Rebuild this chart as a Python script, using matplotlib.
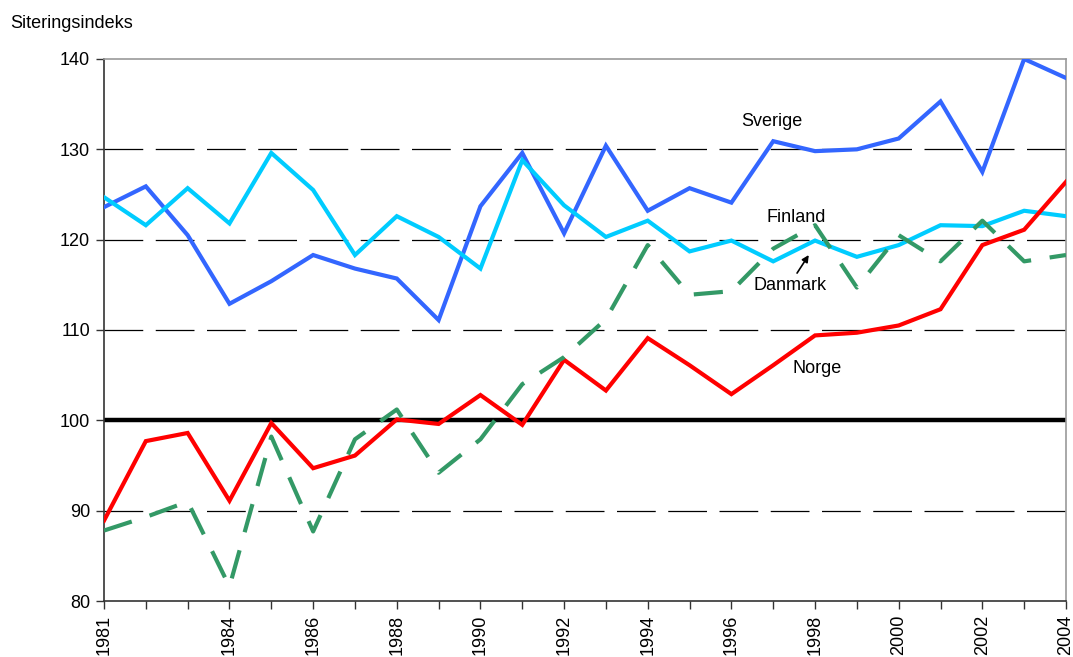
import matplotlib
matplotlib.use("Agg")
import matplotlib.pyplot as plt
import numpy as np

plt.rcParams['font.family'] = ['Liberation Sans', 'DejaVu Sans']

years = list(range(1981, 2005))
sverige = [123.6, 125.9, 120.5, 112.9, 115.4, 118.3, 116.8, 115.7, 111.1, 123.7, 129.6, 120.7,
           130.4, 123.2, 125.7, 124.1, 130.9, 129.8, 130.0, 131.2, 135.3, 127.5, 140.0, 137.9]
finland = [124.7, 121.6, 125.7, 121.8, 129.6, 125.5, 118.3, 122.6, 120.3, 116.8, 128.8, 123.8,
           120.3, 122.1, 118.7, 119.9, 117.6, 119.9, 118.1, 119.4, 121.6, 121.5, 123.2, 122.6]
norge = [88.9, 97.7, 98.6, 91.1, 99.7, 94.7, 96.1, 100.1, 99.6, 102.8, 99.5, 106.7,
         103.3, 109.1, 106.1, 102.9, 106.1, 109.4, 109.7, 110.5, 112.3, 119.4, 121.1, 126.4]
danmark = [87.8, 89.3, 91.0, 81.6, 98.2, 87.7, 97.9, 101.2, 94.2, 97.9, 104.0, 107.0,
           111.2, 119.4, 113.9, 114.3, 119.0, 121.6, 114.7, 120.5, 117.6, 122.1, 117.6, 118.3]
year_labels = [1981, 1984, 1986, 1988, 1990, 1992, 1994, 1996, 1998, 2000, 2002, 2004]
yticks = [80, 90, 100, 110, 120, 130, 140]

fig = plt.figure(figsize=(10.73, 6.57), dpi=100)
ax = fig.add_axes([104/1073, 1-601/657, (1066-104)/1073, (601-59)/657])

ax.set_xlim(1981, 2004)
ax.set_ylim(80, 140)

for g in [90, 110, 120, 130]:
    ax.axhline(g, color='black', lw=0.9, dashes=(31, 10), zorder=1)
ax.axhline(100, color='black', lw=3.2, zorder=2)

ax.plot(years, sverige, color='#3366FF', lw=3.0, zorder=3, solid_joinstyle='miter')
ax.plot(years, finland, color='#00CCFF', lw=3.0, zorder=4, solid_joinstyle='miter')
ax.plot(years, norge, color='#FF0000', lw=3.0, zorder=5, solid_joinstyle='miter')
ax.plot(years, danmark, color='#339966', lw=3.0, zorder=6, dashes=(7, 4.5), dash_capstyle='butt')

ax.text(1996.96, 133.1, 'Sverige', fontsize=13, ha='center', va='center')
ax.text(1997.54, 122.5, 'Finland', fontsize=13, ha='center', va='center')
ax.text(1997.4, 114.9, 'Danmark', fontsize=13, ha='center', va='center')
ax.text(1998.04, 105.75, 'Norge', fontsize=13, ha='center', va='center')
ax.annotate('', xy=(1997.85, 118.3), xytext=(1997.57, 116.3),
            arrowprops=dict(arrowstyle='-|>', color='black', lw=1.2, mutation_scale=10,
                            shrinkA=0, shrinkB=0))

ax.set_xticks(years)
ax.set_xticklabels([str(y) if y in year_labels else '' for y in years], rotation=90, fontsize=13)
ax.set_yticks(yticks)
ax.set_yticklabels([str(v) for v in yticks], fontsize=13)
ax.tick_params(axis='both', direction='out', length=6, width=1, color='#333333', pad=4)

ax.spines['left'].set_color('#333333')
ax.spines['bottom'].set_color('#333333')
ax.spines['top'].set_color('#999999')
ax.spines['right'].set_color('#999999')
for s in ax.spines.values():
    s.set_linewidth(1.2)

fig.text(10/1073, 1-24/657, 'Siteringsindeks', fontsize=13, ha='left', va='center')

fig.savefig('out.png', dpi=100)
